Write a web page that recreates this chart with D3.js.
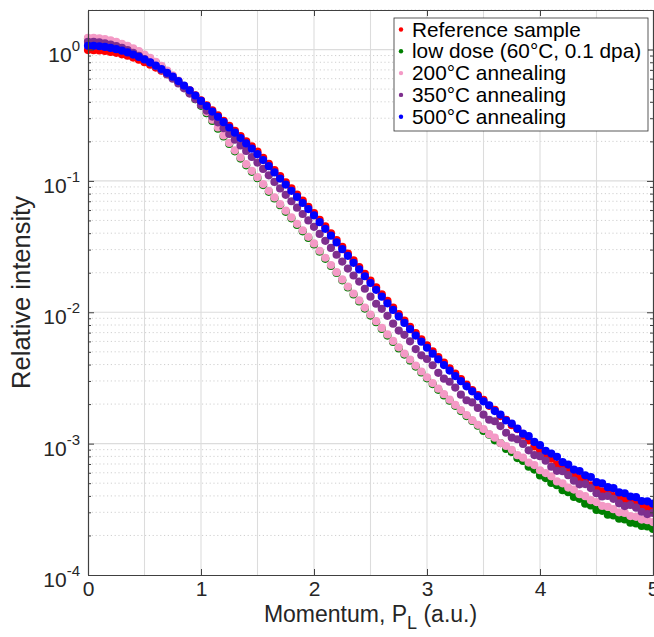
<!DOCTYPE html>
<html>
<head>
<meta charset="utf-8">
<title>Momentum distribution</title>
<script src="https://cdn.jsdelivr.net/npm/d3@7"></script>
<style>
    body { margin: 0; background: #fff; }
    #chart-area { width: 654px; height: 637px; }
    svg { display: block; font-family: "Liberation Sans", Arial, Helvetica, sans-serif; }
</style>
</head>
<body>
<div id="chart-area"></div>
<script>

// Momentum P_L (a.u.) shared by every measurement
const momentum = [
    0, 0.05, 0.1, 0.15, 0.2, 0.25, 0.3, 0.35, 0.4, 0.45,
    0.5, 0.55, 0.6, 0.65, 0.7, 0.75, 0.8, 0.85, 0.9, 0.95,
    1, 1.05, 1.1, 1.15, 1.2, 1.25, 1.3, 1.35, 1.4, 1.45,
    1.5, 1.55, 1.6, 1.65, 1.7, 1.75, 1.8, 1.85, 1.9, 1.95,
    2, 2.05, 2.1, 2.15, 2.2, 2.25, 2.3, 2.35, 2.4, 2.45,
    2.5, 2.55, 2.6, 2.65, 2.7, 2.75, 2.8, 2.85, 2.9, 2.95,
    3, 3.05, 3.1, 3.15, 3.2, 3.25, 3.3, 3.35, 3.4, 3.45,
    3.5, 3.55, 3.6, 3.65, 3.7, 3.75, 3.8, 3.85, 3.9, 3.95,
    4, 4.05, 4.1, 4.15, 4.2, 4.25, 4.3, 4.35, 4.4, 4.45,
    4.5, 4.55, 4.6, 4.65, 4.7, 4.75, 4.8, 4.85, 4.9, 4.95,
    5
];

// Relative intensity, one list per sample
const referenceSample = [
    0.991, 0.989, 0.984, 0.975, 0.959, 0.944, 0.920, 0.897, 0.869, 0.838,
    0.802, 0.766, 0.729, 0.690, 0.650, 0.610, 0.568, 0.528, 0.488, 0.449,
    0.411, 0.376, 0.344, 0.315, 0.287, 0.262, 0.240, 0.219, 0.200, 0.183,
    0.167, 0.150, 0.1349, 0.1211, 0.1086, 0.0977, 0.0877, 0.0787, 0.0708, 0.0635,
    0.0570, 0.0506, 0.0450, 0.0399, 0.0355, 0.0315, 0.0280, 0.0248, 0.0221, 0.0196,
    0.01742, 0.01545, 0.01371, 0.01219, 0.01086, 0.00968, 0.00865, 0.00775, 0.00693, 0.00622,
    0.00560, 0.00505, 0.00456, 0.00413, 0.00375, 0.00341, 0.00310, 0.00282, 0.00256, 0.00234,
    0.00215, 0.00194, 0.00181, 0.00162, 0.00152, 0.00138, 0.00129, 0.00115, 0.00106, 0.000953,
    0.000895, 0.000809, 0.000767, 0.000697, 0.000665, 0.000611, 0.000588, 0.000543, 0.000522, 0.000481,
    0.000465, 0.000433, 0.000425, 0.000399, 0.000393, 0.000369, 0.000362, 0.000344, 0.000340, 0.000324,
    0.000318
];

const lowDose = [
    1.208, 1.205, 1.194, 1.178, 1.153, 1.122, 1.086, 1.047, 1.000, 0.953,
    0.900, 0.847, 0.791, 0.736, 0.679, 0.624, 0.570, 0.518, 0.467, 0.419,
    0.373, 0.328, 0.286, 0.250, 0.218, 0.191, 0.168, 0.148, 0.1315, 0.1172,
    0.1050, 0.0929, 0.0826, 0.0735, 0.0653, 0.0582, 0.0519, 0.0462, 0.0413, 0.0368,
    0.0328, 0.0289, 0.0255, 0.0225, 0.0199, 0.0175, 0.01545, 0.01365, 0.01208, 0.01067,
    0.00944, 0.00840, 0.00746, 0.00665, 0.00594, 0.00531, 0.00476, 0.00429, 0.00386, 0.00348,
    0.00314, 0.00284, 0.00257, 0.00233, 0.00212, 0.00194, 0.00177, 0.00162, 0.00149, 0.00137,
    0.00125, 0.00117, 0.00106, 0.00101, 0.000912, 0.000863, 0.000776, 0.000738, 0.000668, 0.000635,
    0.000573, 0.000547, 0.000502, 0.000482, 0.000442, 0.000427, 0.000393, 0.000380, 0.000349, 0.000338,
    0.000313, 0.000308, 0.000288, 0.000284, 0.000268, 0.000265, 0.000250, 0.000247, 0.000236, 0.000234,
    0.000224
];

const anneal200 = [
    1.230, 1.227, 1.216, 1.199, 1.175, 1.143, 1.107, 1.067, 1.019, 0.971,
    0.916, 0.863, 0.805, 0.750, 0.692, 0.635, 0.581, 0.527, 0.475, 0.427,
    0.380, 0.334, 0.292, 0.255, 0.222, 0.1945, 0.171, 0.151, 0.134, 0.1194,
    0.1069, 0.0946, 0.0841, 0.0748, 0.0665, 0.0593, 0.0528, 0.0471, 0.0421, 0.0375,
    0.0334, 0.0294, 0.0260, 0.0229, 0.0202, 0.0178, 0.0157, 0.0139, 0.0123, 0.01086,
    0.00962, 0.00855, 0.00760, 0.00678, 0.00605, 0.00541, 0.00485, 0.00437, 0.00393, 0.00354,
    0.00320, 0.00289, 0.00262, 0.00238, 0.00216, 0.00197, 0.00180, 0.00165, 0.00151, 0.00139,
    0.00129, 0.00118, 0.00111, 0.00101, 0.000959, 0.000897, 0.000817, 0.000782, 0.000718, 0.000687,
    0.000627, 0.000597, 0.000564, 0.000516, 0.000499, 0.000463, 0.000447, 0.000412, 0.000398, 0.000371,
    0.000359, 0.000336, 0.000330, 0.000317, 0.000300, 0.000297, 0.000281, 0.000277, 0.000264, 0.000261,
    0.000253
];

const anneal350 = [
    1.146, 1.143, 1.132, 1.117, 1.091, 1.064, 1.028, 0.989, 0.942, 0.895,
    0.845, 0.796, 0.746, 0.698, 0.647, 0.600, 0.552, 0.507, 0.462, 0.420,
    0.379, 0.343, 0.309, 0.279, 0.252, 0.2275, 0.206, 0.186, 0.169, 0.152,
    0.138, 0.1233, 0.1102, 0.0982, 0.0877, 0.0783, 0.0700, 0.0625, 0.0560, 0.0500,
    0.0447, 0.0395, 0.0350, 0.0309, 0.0274, 0.0243, 0.0215, 0.01905, 0.01714, 0.0151,
    0.01315, 0.01161, 0.01062, 0.00940, 0.00819, 0.00726, 0.00673, 0.00601, 0.00525, 0.00470,
    0.00441, 0.00395, 0.00346, 0.00312, 0.00296, 0.00267, 0.00236, 0.00214, 0.00206, 0.00187,
    0.00166, 0.00152, 0.00148, 0.00136, 0.00121, 0.00111, 0.00108, 0.000995, 0.000889, 0.000819,
    0.000802, 0.000741, 0.000667, 0.000621, 0.000617, 0.000575, 0.000522, 0.000490, 0.000492, 0.000459,
    0.000419, 0.000396, 0.000400, 0.000380, 0.000351, 0.000335, 0.000341, 0.000326, 0.000303, 0.000291,
    0.000297
];

const anneal500 = [
    1.069, 1.067, 1.059, 1.047, 1.028, 1.007, 0.980, 0.951, 0.916, 0.879,
    0.840, 0.798, 0.755, 0.711, 0.665, 0.621, 0.575, 0.532, 0.489, 0.447,
    0.406, 0.371, 0.337, 0.308, 0.280, 0.255, 0.233, 0.212, 0.193, 0.176,
    0.160, 0.144, 0.1294, 0.1161, 0.1042, 0.0938, 0.0841, 0.0755, 0.0679, 0.0610,
    0.0547, 0.0485, 0.0432, 0.0383, 0.0340, 0.0302, 0.0269, 0.0238, 0.0212, 0.0188,
    0.0167, 0.01483, 0.01315, 0.01169, 0.01042, 0.00929, 0.00830, 0.00743, 0.00665, 0.00597,
    0.00537, 0.00484, 0.00438, 0.00396, 0.00360, 0.00327, 0.00299, 0.00273, 0.00250, 0.00229,
    0.00210, 0.00196, 0.00177, 0.00166, 0.00150, 0.00142, 0.00130, 0.00119, 0.00114, 0.00103,
    0.000973, 0.000881, 0.000840, 0.000794, 0.000723, 0.000693, 0.000635, 0.000619, 0.000574, 0.000557,
    0.000509, 0.000498, 0.000466, 0.000458, 0.000425, 0.000419, 0.000396, 0.000391, 0.000366, 0.000364,
    0.000349
];

const seriesLabels = ["Reference sample", "low dose (60°C, 0.1 dpa)", "200°C annealing", "350°C annealing", "500°C annealing"];
const seriesColors = ["#ff0000", "#007f00", "#f49ac6", "#7e2f8e", "#0000ff"];

// Tick labels
const xTicks = [0, 1, 2, 3, 4, 5];
const xGridLines = [0.5, 1, 1.5, 2, 2.5, 3, 3.5, 4, 4.5];
const yTicks = [1e-4, 1e-3, 1e-2, 1e-1, 1];
const yTickExponents = ["-4", "-3", "-2", "-1", "0"];


class ProfileVis {

    constructor(parentElement) {
        this.parentElement = parentElement;
        this.initVis();
    }

    initVis() {
        let vis = this;

        vis.margin = {top: 10, right: 1, bottom: 62, left: 88};
        vis.width = 654 - vis.margin.left - vis.margin.right;
        vis.height = 637 - vis.margin.top - vis.margin.bottom;

        vis.root = d3.select(`#${vis.parentElement}`).append("svg")
            .attr("width", 654)
            .attr("height", 637);

        vis.svg = vis.root.append("g")
            .attr("transform", `translate(${vis.margin.left},${vis.margin.top})`);

        // Scales
        vis.x = d3.scaleLinear().domain([0, 5]).range([0, vis.width]);
        vis.y = d3.scaleLog().domain([1e-4, 2]).range([vis.height, 0]);

        vis.wrangleData();
    }

    wrangleData() {
        let vis = this;

        let columns = [referenceSample, lowDose, anneal200, anneal350, anneal500];
        vis.series = seriesLabels.map((label, i) => ({
            label: label,
            color: seriesColors[i],
            points: momentum.map((p, j) => ({p: p, v: columns[i][j]}))
        }));

        vis.updateVis();
    }

    updateVis() {
        let vis = this;
        let minorTicks = vis.y.ticks().filter(t => !yTicks.includes(t));

        // Grid: dotted minor lines, solid major lines
        vis.svg.append("g").selectAll("line")
            .data(minorTicks)
            .enter().append("line")
            .attr("x1", 0).attr("x2", vis.width)
            .attr("y1", d => vis.y(d)).attr("y2", d => vis.y(d))
            .attr("stroke", "#c4c4c4")
            .attr("stroke-width", 0.8)
            .attr("stroke-dasharray", "1.2,2.6");

        vis.svg.append("g").selectAll("line")
            .data(yTicks.slice(1))
            .enter().append("line")
            .attr("x1", 0).attr("x2", vis.width)
            .attr("y1", d => vis.y(d)).attr("y2", d => vis.y(d))
            .attr("stroke", "#dcdcdc")
            .attr("stroke-width", 1.2);

        vis.svg.append("g").selectAll("line")
            .data(xGridLines)
            .enter().append("line")
            .attr("x1", d => vis.x(d)).attr("x2", d => vis.x(d))
            .attr("y1", 0).attr("y2", vis.height)
            .attr("stroke", "#dcdcdc")
            .attr("stroke-width", 1.1);

        // Markers, one group per sample
        vis.svg.selectAll(".series")
            .data(vis.series)
            .enter().append("g")
            .attr("class", "series")
            .attr("fill", d => d.color)
            .selectAll("circle")
            .data(d => d.points)
            .enter().append("circle")
            .attr("cx", d => vis.x(d.p))
            .attr("cy", d => vis.y(d.v))
            .attr("r", 4.1);

        // Axes with inward ticks on all four sides
        let axisColor = "#404040";
        let styleAxis = g => {
            g.select(".domain").attr("stroke", axisColor).attr("stroke-width", 1.1);
            g.selectAll(".tick line").attr("stroke", axisColor);
        };

        vis.svg.append("g")
            .attr("transform", `translate(0,${vis.height})`)
            .call(d3.axisBottom(vis.x).tickValues(xTicks).tickFormat(d3.format("d"))
                .tickSizeInner(-6).tickSizeOuter(0).tickPadding(6))
            .call(styleAxis)
            .call(g => g.selectAll("text")
                .attr("fill", "#262626")
                .style("font-size", "21px")
                .style("font-family", "'Liberation Sans', Arial, sans-serif"));

        vis.svg.append("g")
            .call(d3.axisTop(vis.x).tickValues(xTicks).tickFormat("")
                .tickSizeInner(-6).tickSizeOuter(0))
            .call(styleAxis);

        let minorLeft = d3.axisLeft(vis.y).tickValues(minorTicks).tickFormat("").tickSizeInner(-3).tickSizeOuter(0);
        let minorRight = d3.axisRight(vis.y).tickValues(minorTicks).tickFormat("").tickSizeInner(-3).tickSizeOuter(0);

        vis.svg.append("g")
            .call(d3.axisLeft(vis.y).tickValues(yTicks).tickFormat("").tickSizeInner(-6).tickSizeOuter(0))
            .call(styleAxis);
        vis.svg.append("g").call(minorLeft).call(styleAxis);

        vis.svg.append("g")
            .attr("transform", `translate(${vis.width},0)`)
            .call(d3.axisRight(vis.y).tickValues(yTicks).tickFormat("").tickSizeInner(-6).tickSizeOuter(0))
            .call(styleAxis);
        vis.svg.append("g")
            .attr("transform", `translate(${vis.width},0)`)
            .call(minorRight).call(styleAxis);

        // Power-of-ten labels on the y axis
        let yLabels = vis.svg.append("g").selectAll("text")
            .data(yTicks)
            .enter().append("text")
            .attr("x", -8)
            .attr("y", d => vis.y(d) + 12)
            .attr("text-anchor", "end")
            .attr("fill", "#262626")
            .style("font-size", "21px");
        yLabels.append("tspan").text("10");
        yLabels.append("tspan")
            .attr("dy", -11)
            .style("font-size", "15px")
            .text((d, i) => yTickExponents[i]);

        // Axis titles
        vis.svg.append("text")
            .attr("transform", `translate(${-58},${vis.height / 2}) rotate(-90)`)
            .attr("text-anchor", "middle")
            .attr("fill", "#262626")
            .style("font-size", "25.5px")
            .text("Relative intensity");

        let xTitle = vis.svg.append("text")
            .attr("x", vis.width / 2)
            .attr("y", vis.height + 47)
            .attr("text-anchor", "middle")
            .attr("fill", "#262626")
            .style("font-size", "23px");
        xTitle.append("tspan").text("Momentum, P");
        xTitle.append("tspan").attr("dy", 7).style("font-size", "18px").text("L");
        xTitle.append("tspan").attr("dy", -7).text(" (a.u.)");

        // Legend
        let legend = vis.root.append("g")
            .attr("transform", "translate(394,18)");

        legend.append("rect")
            .attr("width", 254)
            .attr("height", 113)
            .attr("fill", "#fff")
            .attr("stroke", "#303030")
            .attr("stroke-width", 0.8);

        let rows = legend.selectAll(".legend-row")
            .data(vis.series)
            .enter().append("g")
            .attr("class", "legend-row")
            .attr("transform", (d, i) => `translate(0,${11.5 + i * 21.8})`);

        rows.append("circle")
            .attr("cx", 7)
            .attr("cy", 0)
            .attr("r", 2.2)
            .attr("fill", d => d.color);

        rows.append("text")
            .attr("x", 18)
            .attr("y", 7)
            .attr("fill", "#000")
            .style("font-size", "20.8px")
            .text(d => d.label);
    }
}

let profileVis = new ProfileVis("chart-area");

</script>
</body>
</html>
